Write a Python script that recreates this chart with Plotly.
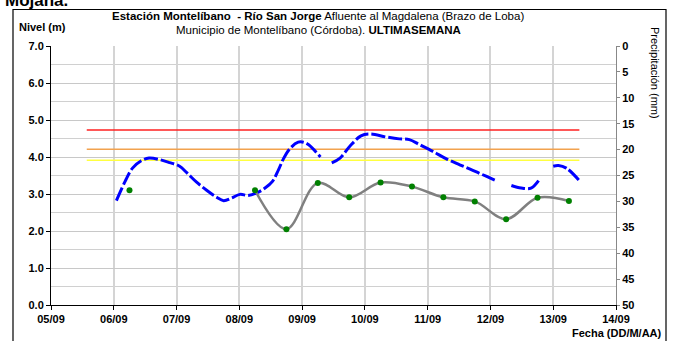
import plotly.graph_objects as go

# ---- data ----
nivel_t = ["2023-09-06 01:00", "2023-09-06 04:20", "2023-09-06 07:10", "2023-09-06 10:30", "2023-09-06 13:30",
           "2023-09-06 17:30", "2023-09-06 21:20", "2023-09-07 01:10", "2023-09-07 04:00", "2023-09-07 07:40",
           "2023-09-07 11:30", "2023-09-07 15:20", "2023-09-07 18:00", "2023-09-07 21:00", "2023-09-08 00:15",
           "2023-09-08 03:20", "2023-09-08 06:40", "2023-09-08 09:50", "2023-09-08 12:40", "2023-09-08 15:00",
           "2023-09-08 17:00", "2023-09-08 19:30", "2023-09-08 22:30", "2023-09-09 00:30", "2023-09-09 02:30",
           "2023-09-09 07:00", "2023-09-09 09:00", "2023-09-09 11:20", "2023-09-09 14:30", "2023-09-09 18:15",
           "2023-09-09 22:30", "2023-09-10 02:00", "2023-09-10 08:10", "2023-09-10 13:10", "2023-09-10 17:00",
           "2023-09-10 21:00", "2023-09-11 02:00", "2023-09-11 07:10", "2023-09-11 12:15", "2023-09-11 17:15",
           "2023-09-11 22:20", "2023-09-12 02:10", "2023-09-12 05:00", "2023-09-12 08:00", "2023-09-12 11:45",
           "2023-09-12 15:30", "2023-09-12 18:40", "2023-09-12 21:30", "2023-09-13 00:00", "2023-09-13 02:00",
           "2023-09-13 05:00", "2023-09-13 10:00"]
nivel_v = [2.82, 3.34, 3.70, 3.90, 3.97,
           3.93, 3.85, 3.75, 3.57, 3.32,
           3.10, 2.91, 2.82, 2.89, 2.99,
           2.96, 3.03, 3.16, 3.34, 3.66,
           3.97, 4.24, 4.40, 4.40, 4.33,
           4.00, None, 3.84, 3.97, 4.29,
           4.57, 4.62, 4.54, 4.49, 4.47,
           4.33, 4.15, 3.95, 3.79, 3.64,
           3.48, 3.36, None, 3.23, 3.16,
           3.16, 3.39, None, 3.75, 3.77,
           3.70, 3.36]

obs_t = ["2023-09-06 06:00", "2023-09-06 18:00", "2023-09-08 06:00", "2023-09-08 18:00", "2023-09-09 06:00",
         "2023-09-09 18:00", "2023-09-10 06:00", "2023-09-10 18:00", "2023-09-11 06:00", "2023-09-11 18:00",
         "2023-09-12 06:00", "2023-09-12 18:00", "2023-09-13 06:00"]
obs_v = [3.10, None, 3.10, 2.05, 3.30,
         2.91, 3.31, 3.20, 2.91, 2.80,
         2.32, 2.90, 2.81]

umbral_t = ["2023-09-05 13:40", "2023-09-13 10:00"]
umbral_rojo = 4.73
umbral_naranja = 4.21
umbral_amarillo = 3.91

x_range = ["2023-09-05", "2023-09-14"]
x_ticks = ["2023-09-05", "2023-09-06", "2023-09-07", "2023-09-08", "2023-09-09",
           "2023-09-10", "2023-09-11", "2023-09-12", "2023-09-13", "2023-09-14"]
x_labels = ["05/09", "06/09", "07/09", "08/09", "09/09", "10/09", "11/09", "12/09", "13/09", "14/09"]
nivel_ticks = [0, 1, 2, 3, 4, 5, 6, 7]
nivel_labels = ["0.0", "1.0", "2.0", "3.0", "4.0", "5.0", "6.0", "7.0"]
precip_ticks = [0, 5, 10, 15, 20, 25, 30, 35, 40, 45, 50]
precip_labels = ["0", "5", "10", "15", "20", "25", "30", "35", "40", "45", "50"]

FONT = "Arial, Liberation Sans, sans-serif"

fig = go.Figure()

for val, col in [(umbral_rojo, "#FF2020"), (umbral_naranja, "#F2A24E"), (umbral_amarillo, "#FFFF40")]:
    fig.add_trace(go.Scatter(x=umbral_t, y=[val, val], mode="lines",
                             line=dict(color=col, width=1.5), hoverinfo="skip", showlegend=False))

fig.add_trace(go.Scatter(x=nivel_t, y=nivel_v, mode="lines", connectgaps=False,
                         line=dict(color="#0000FF", width=3, shape="spline", dash="14px,3px"),
                         showlegend=False))

fig.add_trace(go.Scatter(x=obs_t, y=obs_v, mode="lines+markers", connectgaps=False,
                         line=dict(color="#808080", width=2.5, shape="spline"),
                         marker=dict(color="#008000", size=6),
                         showlegend=False))

# empty trace to bind the precipitation axis
fig.add_trace(go.Scatter(x=[x_range[0]], y=[None], yaxis="y2", showlegend=False, hoverinfo="skip"))

fig.update_layout(
    width=674, height=341,
    margin=dict(l=51, r=58, t=46, b=36, autoexpand=False),
    paper_bgcolor="white", plot_bgcolor="white",
    font=dict(family=FONT, size=11, color="black"),
    xaxis=dict(type="date", range=x_range, tickvals=x_ticks,
               ticktext=["<b>%s</b>" % s for s in x_labels],
               showgrid=True, gridcolor="#D4D4D4", gridwidth=1.5,
               showline=True, linecolor="black", linewidth=1,
               ticks="outside", ticklen=4, tickcolor="black",
               tickfont=dict(family=FONT, size=11), zeroline=False),
    yaxis=dict(range=[0, 7], tickvals=nivel_ticks,
               ticktext=["<b>%s</b>" % s for s in nivel_labels],
               showgrid=True, gridcolor="#C8C8C8", gridwidth=1,
               minor=dict(dtick=0.5, showgrid=True, gridcolor="#D0D0D0", gridwidth=1),
               showline=True, linecolor="black", linewidth=1,
               ticks="outside", ticklen=4, tickcolor="black",
               tickfont=dict(family=FONT, size=11), zeroline=False),
    yaxis2=dict(overlaying="y", side="right", range=[50, 0], tickvals=precip_ticks,
                ticktext=["<b>%s</b>" % s for s in precip_labels],
                showgrid=False, showline=True, linecolor="#888888", linewidth=1,
                ticks="outside", ticklen=3, tickcolor="#888888",
                tickfont=dict(family=FONT, size=11), zeroline=False),
)

ann = [
    dict(text="<b>Estación Montelíbano  - Río San Jorge</b> Afluente al Magdalena (Brazo de Loba)",
         x=(318 - 51) / 565, y=1 + (46 - 16) / 259),
    dict(text="Municipio de Montelíbano (Córdoba). <b>ULTIMASEMANA</b>",
         x=(318 - 51) / 565, y=1 + (46 - 29.5) / 259),
]
for a in ann:
    fig.add_annotation(xref="paper", yref="paper", xanchor="center", yanchor="middle",
                       showarrow=False, font=dict(family=FONT, size=11.5), **a)

fig.add_annotation(text="<b>Nivel (m)</b>", xref="paper", yref="paper",
                   x=(17 - 51) / 565, y=1 + (46 - 27) / 259, xanchor="left", yanchor="middle",
                   showarrow=False, font=dict(family=FONT, size=11))
fig.add_annotation(text="<b>Fecha (DD/M/AA)</b>", xref="paper", yref="paper",
                   x=(664 - 51) / 565, y=(305 - 333) / 259, xanchor="right", yanchor="middle",
                   showarrow=False, font=dict(family=FONT, size=11))
fig.add_annotation(text="Precipitación (mm)", xref="paper", yref="paper",
                   x=(655 - 51) / 565, y=(305 - 73) / 259, xanchor="center", yanchor="middle",
                   textangle=90, showarrow=False, font=dict(family=FONT, size=11))
fig.add_annotation(text="<b>Mojana.</b>", xref="paper", yref="paper",
                   x=(3 - 51) / 565, y=1 + (46 - 12) / 259, xanchor="left", yanchor="bottom",
                   showarrow=False, font=dict(family=FONT, size=17))

fig.add_shape(type="rect", xref="paper", yref="paper",
              x0=(13 - 51) / 565, x1=(666 - 51) / 565,
              y0=(305 - 360) / 259, y1=1 + (46 - 9.5) / 259,
              line=dict(color="black", width=1.2), fillcolor="rgba(0,0,0,0)", layer="above")

fig.write_html("out.html", config={"displayModeBar": False},
               post_script="document.body.style.margin='0';document.body.style.overflow='hidden';")
